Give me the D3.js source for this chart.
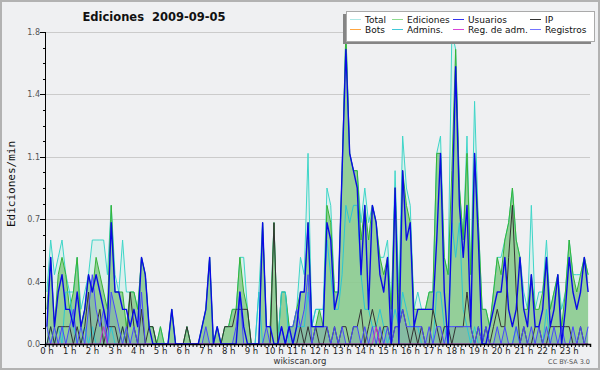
<!DOCTYPE html>
<html>
<head>
<meta charset="utf-8">
<script src="https://cdn.jsdelivr.net/npm/d3@7/dist/d3.min.js"></script>
<style>
    body { margin: 0; background: #fff; }
    svg { display: block; font-family: "DejaVu Sans", sans-serif; }
</style>
</head>
<body>
<svg id="chart" width="600" height="370"></svg>
<script>
// edits per minute, one value per 10-minute slot (6 per hour, 0 h .. 23 h)
const total = [
    0.3,0.6,0.4,0.5,0.6,0.4,  0.3,0.3,0.5,0.2,0.3,0.4,  0.6,0.6,0.6,0.6,0.4,0.8,  0.4,0.3,0.6,0.3,0.3,0.3,
    0.2,0.5,0.4,0.1,0.1,0,    0.1,0,0,0.2,0,0,          0,0.1,0,0,0,0.1,          0.2,0.5,0,0.1,0,0.1,
    0.1,0.2,0.2,0.5,0.5,0.2,  0,0,0.3,0.7,0.1,0.1,      0.7,0,0.3,0.3,0.1,0.1,    0.2,0.5,0.4,1.1,0.1,0.2,
    0.2,0.2,0.9,0.8,0.3,0.3,  1.0,1.8,1.1,1.0,1.0,0.7,  0.9,0.7,0.8,0.7,0.5,0.5,  0.6,0.2,1.0,0.3,1.2,0.9,
    0.8,0.2,0.3,0.2,0.2,0.3,  0.3,1.1,1.2,0.5,0.4,1.8,  1.7,0.9,0.6,1.2,0.4,1.4,  0.7,0.2,0.2,0.1,0.3,0.5,
    0.5,0.6,0.7,0.9,0.6,0.5,  0.3,0.2,0.8,0.2,0.3,0.3,  0.6,0.2,0.3,0.4,0.2,0.3,  0.6,0.4,0.4,0.4,0.5,0.4
];
const ediciones = [
    0.2,0.5,0.1,0.4,0.5,0.4,  0.2,0.3,0.5,0.1,0.2,0.4,  0.3,0.5,0.4,0.3,0.2,0.8,  0.3,0.3,0.3,0.1,0.3,0.3,
    0.2,0.5,0.4,0.1,0.1,0,    0.1,0,0,0.2,0,0,          0,0.1,0,0,0,0.1,          0.2,0.5,0,0.1,0,0.1,
    0.1,0.2,0.2,0.5,0.3,0.2,  0,0,0,0.7,0.1,0.1,        0.7,0,0.3,0.3,0.1,0.1,    0.2,0.3,0.3,0.7,0.1,0.1,
    0.2,0.1,0.8,0.7,0.3,0.3,  1.0,1.8,1.1,1.0,1.0,0.6,  0.8,0.6,0.8,0.7,0.5,0.4,  0.5,0.2,0.9,0.2,1.0,0.8,
    0.7,0.2,0.2,0.2,0.2,0.3,  0.3,1.1,1.1,0.5,0.4,1.0,  1.7,0.9,0.6,1.1,0.4,1.1,  0.7,0.2,0.2,0.1,0.3,0.5,
    0.4,0.6,0.7,0.9,0.6,0.5,  0.2,0.2,0.4,0.2,0.2,0.3,  0.5,0.2,0.3,0.4,0.1,0.3,  0.6,0.4,0.3,0.4,0.5,0.4
];
const usuarios = [
    0.1,0.5,0.1,0.3,0.4,0.2,  0.2,0.1,0.3,0.1,0.2,0.4,  0.3,0.4,0.3,0.2,0.1,0.7,  0.3,0.3,0.2,0.2,0.1,0.2,
    0.1,0.5,0.4,0.1,0,0,      0,0,0,0.2,0,0,            0,0,0,0,0,0.1,            0.2,0.5,0,0.1,0,0,
    0,0,0,0.3,0.1,0,          0,0,0,0.7,0.1,0.1,        0,0,0.1,0,0.1,0,          0.1,0.3,0.3,0.7,0.1,0.1,
    0.1,0.1,0.7,0.6,0.2,0.3,  1.0,1.7,1.1,1.0,0.9,0.4,  0.8,0.2,0.8,0.7,0.4,0.3,  0.5,0,0.9,0,1.0,0.6,
    0.7,0.1,0.2,0.2,0.2,0.2,  0.2,0.6,1.1,0.3,0,0.7,    1.6,0.8,0.5,0.8,0.1,1.1,  0.6,0,0,0.1,0.2,0.3,
    0.3,0.5,0.2,0.1,0.2,0.5,  0.2,0.1,0.4,0.1,0.1,0.2,  0.5,0.1,0.2,0.4,0,0.2,    0.5,0.3,0.2,0.3,0.5,0.3
];
const ip = [
    0,0.1,0,0.1,0.1,0.1,      0.1,0,0.1,0,0.1,0.3,      0,0.1,0.2,0,0.1,0.1,      0.1,0,0.1,0,0.3,0.1,
    0,0.2,0,0.1,0.1,0,        0,0,0,0,0,0,              0,0.1,0,0,0,0,            0,0,0,0,0,0.1,
    0.1,0.1,0.2,0.2,0.2,0.2,  0,0,0,0,0,0,              0.7,0,0,0,0,0,            0,0.1,0,0.1,0,0.1,
    0,0,0.1,0,0.1,0,          0.1,0.1,0,0.1,0.1,0.2,    0,0.1,0.2,0.1,0,0.1,      0.1,0,0.1,0.1,0.2,0.1,
    0,0.1,0,0.1,0,0,          0.2,0.1,0,0.1,0.1,0,      0.1,0.1,0.1,0.3,0.1,0,    0.1,0,0.1,0,0.1,0.2,
    0.1,0.1,0.5,0.8,0.3,0,    0.1,0,0,0.1,0.1,0,        0,0.1,0.1,0.1,0.1,0.1,    0.1,0,0,0.1,0,0
];
const admins = [
    0,0.1,0,0.1,0,0.3,        0.3,0.1,0,0,0.1,0,        0.1,0,0,0.1,0,0.1,        0,0,0.1,0,0,0,
    0,0,0,0,0,0,              0,0,0,0,0,0,              0,0,0,0,0,0,              0,0,0,0,0,0,
    0,0,0,0,0,0,              0,0,0.3,0,0,0,            0,0,0.3,0.3,0,0,          0.1,0.1,0.1,0.3,0.1,0.2,
    0.2,0.2,0.6,0.4,0.2,0.2,  0.4,0.8,0.7,0.8,0.8,0.4,  0.2,0.2,0.1,0.1,0.2,0.1,  0,0.1,0.2,0.1,0.3,0.2,
    0.1,0.1,0.1,0,0,0,        0,0.3,0.3,0.1,0,0.7,      0.5,0.7,0.2,0.1,0,0.1,    0,0,0,0,0,0,
    0,0,0,0,0.1,0,            0,0,0,0,0,0,              0.2,0,0,0,0,0,            0,0,0,0,0,0
];
const registros = [
    0.1,0,0.1,0,0.1,0,        0.1,0.2,0,0.1,0,0.2,      0.4,0.2,0.1,0.2,0,0.3,    0.2,0.1,0,0.1,0,0.1,
    0,0.3,0,0,0,0,            0,0,0,0,0,0,              0,0,0,0,0,0,              0.1,0,0,0,0,0,
    0,0,0.1,0.3,0,0,          0,0,0,0,0.1,0,            0,0,0.1,0,0.1,0.1,        0.2,0.1,0.2,0.4,0,0.1,
    0.1,0.1,0.1,0,0.1,0,      0.1,0,0,0.1,0.1,0,        0.1,0,0.1,0,0.1,0,        0.1,0,0.1,0.1,0.2,0.1,
    0.1,0.1,0.1,0.1,0,0.1,    0,0.1,0.1,0,0.1,0.1,      0.1,0.1,0.1,0.1,0.1,0,    0.1,0,0.1,0,0,0.1,
    0,0.1,0,0,0.1,0,          0.1,0,0.1,0,0.1,0,        0.1,0,0.1,0,0.1,0,        0,0.1,0,0.1,0,0.1
];
const regAdm = [
    0,0,0,0,0,0,  0,0,0,0,0,0,  0,0,0,0.1,0,0,  0,0,0,0,0,0,
    0,0,0,0,0,0,  0,0,0,0,0,0,  0,0,0,0,0,0,    0,0,0,0,0,0,
    0,0,0,0,0,0,  0,0,0,0,0,0,  0,0,0,0,0,0,    0,0,0,0,0,0,
    0,0,0,0,0,0,  0,0,0,0,0,0,  0,0,0,0.1,0,0,  0,0,0,0,0,0,
    0,0,0,0,0,0,  0,0,0,0,0,0,  0,0,0,0,0,0,    0,0,0,0,0,0,
    0,0,0,0,0,0,  0,0,0,0,0,0,  0,0,0,0,0,0,    0,0,0,0,0,0
];
const bots = []; // no bot edits that day

const hourTicks = d3.range(0, 24);
const yTicks = [0, 0.36, 0.72, 1.08, 1.44, 1.8];
const yTickLabels = ['0.0', '0.4', '0.7', '1.1', '1.4', '1.8'];

const legendNames = ['Total', 'Ediciones', 'Usuarios', 'IP', 'Bots', 'Admins.', 'Reg. de adm.', 'Registros'];
const legendColors = ['#aee8e6', '#8edc8e', '#3434ee', '#333333', '#ffa640', '#40c8d8', '#d844d8', '#7474ff'];

const svg = d3.select('#chart');
const W = 600, H = 370;
const plotLeft = 45, plotRight = 590, plotTop = 32, plotBottom = 344;

svg.append('rect').attr('x', 1).attr('y', 1).attr('width', W - 2).attr('height', H - 2)
    .attr('fill', '#eff0f2').attr('stroke', '#b2b2b2').attr('stroke-width', 2);

// slot i covers minutes [10i, 10i+10); draw it at the middle of the slot
const slotMinute = i => i * 10 + 5;
const x = d3.scaleLinear().domain([0, 1440]).range([plotLeft, plotRight]);
const y = d3.scaleLinear().domain([0, 1.8]).range([plotBottom, plotTop]);

// grid
svg.append('g').selectAll('line')
    .data(yTicks.slice(1))
    .join('line')
        .attr('x1', plotLeft).attr('x2', plotRight)
        .attr('y1', d => Math.round(y(d)) + 0.5).attr('y2', d => Math.round(y(d)) + 0.5)
        .attr('stroke', '#cbcbcb');

svg.append('clipPath').attr('id', 'plot').append('rect')
    .attr('x', plotLeft).attr('y', plotTop - 2).attr('width', plotRight - plotLeft + 1).attr('height', plotBottom - plotTop + 2);
const plot = svg.append('g').attr('clip-path', 'url(#plot)');

const area = d3.area().x((d, i) => x(slotMinute(i))).y0(y(0)).y1(d => y(d));
const line = d3.line().x((d, i) => x(slotMinute(i))).y(d => y(d));

plot.append('path').attr('d', area(total)).attr('fill', '#cfeeea').attr('fill-opacity', 0.6);
plot.append('path').attr('d', area(ediciones)).attr('fill', '#7cc47c').attr('fill-opacity', 0.75);
plot.append('path').attr('d', area(registros)).attr('fill', '#4a6cd0').attr('fill-opacity', 0.18);

const lines = [
    { data: total, color: '#3ed6c8', width: 1 },
    { data: ediciones, color: '#36b436', width: 1 },
    { data: admins, color: '#2cc6d2', width: 1 },
    { data: ip, color: '#333333', width: 1 },
    { data: registros, color: '#4848ff', width: 1 },
    { data: regAdm, color: '#cc30cc', width: 1 },
    { data: usuarios, color: '#0a0ae6', width: 1.4 }
];
plot.selectAll('path.series')
    .data(lines)
    .join('path')
        .attr('class', 'series')
        .attr('d', d => line(d.data))
        .attr('fill', 'none')
        .attr('stroke', d => d.color)
        .attr('stroke-width', d => d.width)
        .attr('stroke-linejoin', 'round');

// y axis
const yAxis = svg.append('g');
yAxis.append('line').attr('x1', plotLeft + 0.5).attr('x2', plotLeft + 0.5).attr('y1', plotTop).attr('y2', plotBottom)
    .attr('stroke', '#000');
yAxis.selectAll('line.minor')
    .data(d3.range(0, 21).map(k => k * 0.09))
    .join('line')
        .attr('class', 'minor')
        .attr('x1', plotLeft - 2).attr('x2', plotLeft)
        .attr('y1', d => Math.round(y(d)) + 0.5).attr('y2', d => Math.round(y(d)) + 0.5)
        .attr('stroke', '#000');
yAxis.selectAll('line.major')
    .data(yTicks)
    .join('line')
        .attr('class', 'major')
        .attr('x1', plotLeft - 5).attr('x2', plotLeft)
        .attr('y1', d => Math.round(y(d)) + 0.5).attr('y2', d => Math.round(y(d)) + 0.5)
        .attr('stroke', '#000');
yAxis.selectAll('text')
    .data(yTicks)
    .join('text')
        .attr('x', plotLeft - 5).attr('y', d => y(d) + 3)
        .attr('text-anchor', 'end')
        .attr('font-size', 8)
        .attr('fill', '#555')
        .text((d, i) => yTickLabels[i]);

// x axis
const xAxis = d3.axisBottom(x)
    .tickValues(d3.range(0, 1441, 10))
    .tickSize(3)
    .tickFormat('');
svg.append('g')
    .attr('transform', `translate(0,${plotBottom})`)
    .call(xAxis)
    .call(g => g.select('.domain').attr('stroke', '#000').attr('stroke-width', 1.5))
    .call(g => g.selectAll('.tick line').attr('stroke', '#000'));
svg.append('g').selectAll('text')
    .data(hourTicks)
    .join('text')
        .attr('x', d => x(d * 60) + 2)
        .attr('y', plotBottom + 10)
        .attr('text-anchor', 'middle')
        .attr('font-size', 8.5)
        .attr('fill', '#222')
        .text(d => d + ' h');

// titles
svg.append('text')
    .attr('x', 154).attr('y', 21)
    .attr('text-anchor', 'middle')
    .attr('font-size', 11.5).attr('font-weight', 'bold')
    .attr('fill', '#111')
    .style('white-space', 'pre')
    .text('Ediciones  2009-09-05');
svg.append('text')
    .attr('transform', 'translate(15,184) rotate(-90)')
    .attr('text-anchor', 'middle')
    .attr('font-family', '"DejaVu Sans Mono", monospace')
    .attr('font-size', 11)
    .attr('fill', '#111')
    .text('Ediciones/min');
svg.append('text')
    .attr('x', 300).attr('y', 364)
    .attr('text-anchor', 'middle')
    .attr('font-size', 8.5).attr('fill', '#333')
    .text('wikiscan.org');
svg.append('text')
    .attr('x', 590).attr('y', 364)
    .attr('text-anchor', 'end')
    .attr('font-size', 6.5).attr('fill', '#555')
    .text('CC BY-SA 3.0');

// legend
const legend = svg.append('g');
legend.append('rect').attr('x', 343).attr('y', 14).attr('width', 248).attr('height', 30).attr('fill', '#858585');
legend.append('rect').attr('x', 346.5).attr('y', 11.5).attr('width', 248).attr('height', 30)
    .attr('fill', '#fff').attr('stroke', '#aaa').attr('stroke-width', 1);
const colX = [350, 392, 453, 530];
const item = legend.selectAll('g.item')
    .data(legendNames)
    .join('g')
        .attr('class', 'item')
        .attr('transform', (d, i) => `translate(${colX[i % 4]},${i < 4 ? 19 : 29})`);
item.append('line')
    .attr('x1', 0).attr('x2', 11).attr('y1', 0.5).attr('y2', 0.5)
    .attr('stroke', (d, i) => legendColors[i]);
item.append('text')
    .attr('x', 15).attr('y', 3.5)
    .attr('font-size', 9).attr('fill', '#111')
    .text(d => d);
</script>
</body>
</html>
